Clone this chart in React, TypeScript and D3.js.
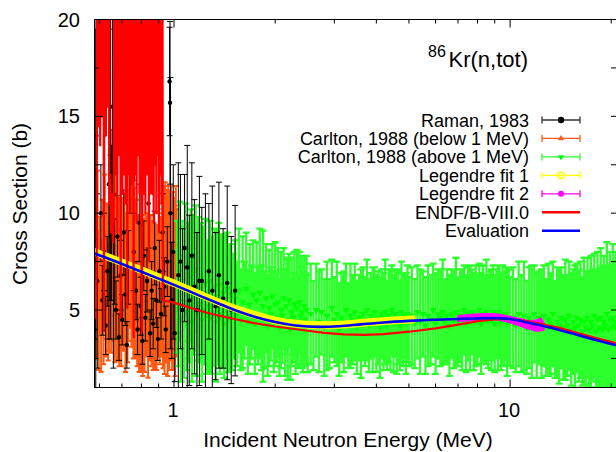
import React from "react";
import * as d3 from "d3";

type Pt = [number, number, number];

const xMajorTicks = [1, 10];
const xMajorLabels = ["1", "10"];
const xMinorTicks = [0.6, 0.7, 0.8, 0.9, 2, 3, 4, 5, 6, 7, 8, 9, 20];
const yMajorTicks = [5, 10, 15, 20];
const yMajorLabels = ["5", "10", "15", "20"];
const yMinorTicks = [2.5, 7.5, 12.5, 17.5];

const legendLabels = [
  "Raman, 1983",
  "Carlton, 1988 (below 1 MeV)",
  "Carlton, 1988 (above 1 MeV)",
  "Legendre fit 1",
  "Legendre fit 2",
  "ENDF/B-VIII.0",
  "Evaluation",
];

// [E (MeV), sigma (b), error (b)]
const raman: Pt[] = [
  [0.580, 4.0, 3.0], [0.582, 12.0, 8.5], [0.585, 8.5, 11.0], [0.588, 14.0, 6.5], [0.591, 6.5, 4.5],
  [0.606, 10.0, 2.5], [0.612, 5.5, 1.8], [0.619, 8.0, 2.0], [0.626, 4.2, 1.5], [0.633, 7.0, 1.8],
  [0.640, 11.5, 8.0], [0.644, 13.0, 7.5], [0.648, 12.0, 8.5], [0.652, 9.5, 4.0], [0.656, 15.5, 4.5],
  [0.660, 11.0, 9.0], [0.666, 7.5, 2.2], [0.672, 5.0, 1.5], [0.679, 8.8, 2.1], [0.686, 3.6, 1.2],
  [0.694, 6.8, 1.8], [0.701, 4.5, 1.3], [0.709, 9.0, 2.2], [0.716, 5.8, 1.6], [0.724, 3.2, 1.2],
  [0.731, 7.2, 1.9], [0.739, 12.5, 2.5], [0.755, 20.0, 6.0], [0.759, 8.0, 2.0], [0.763, 14.5, 2.8],
  [0.771, 6.0, 1.5], [0.779, 4.0, 1.3], [0.788, 9.5, 2.0], [0.796, 5.2, 1.5], [0.805, 3.4, 1.2],
  [0.813, 7.8, 1.8], [0.822, 4.6, 1.2], [0.831, 6.5, 1.6], [0.840, 10.5, 2.3], [0.849, 3.8, 1.2],
  [0.858, 6.0, 1.5], [0.867, 4.3, 1.3], [0.876, 8.2, 1.9], [0.886, 5.5, 1.4], [0.895, 3.5, 1.1],
  [0.905, 7.0, 1.6], [0.915, 4.8, 1.3], [0.925, 9.0, 2.0], [0.935, 6.2, 1.5], [0.945, 4.0, 1.2],
  [0.955, 7.5, 1.8], [0.970, 16.8, 2.8], [0.973, 15.7, 4.2], [0.976, 10.0, 7.0], [0.985, 5.5, 3.0],
  [0.995, 8.0, 4.5], [1.005, 3.8, 2.5], [1.030, 6.8, 5.8], [1.045, 7.5, 4.5], [1.060, 5.0, 4.2],
  [1.075, 8.2, 3.8], [1.095, 7.2, 6.3], [1.110, 5.5, 4.4], [1.130, 7.8, 4.8], [1.150, 6.2, 4.5],
  [1.170, 5.0, 4.0], [1.190, 6.5, 5.4], [1.210, 6.5, 3.8], [1.240, 5.8, 5.2], [1.270, 7.0, 3.5],
  [1.300, 6.0, 5.4], [1.330, 5.2, 3.8], [1.360, 6.8, 4.8], [1.400, 5.6, 3.6], [1.440, 6.4, 5.0],
  [1.480, 5.0, 3.8], [1.520, 6.0, 4.4],
];

const carltonLow: Pt[] = [
  [0.582, 7.5, 4.8], [0.587, 6.0, 3.5], [0.592, 8.0, 4.2], [0.597, 5.5, 3.6], [0.602, 6.8, 3.0],
  [0.607, 5.2, 3.4], [0.612, 7.4, 3.3], [0.617, 6.1, 3.9], [0.622, 8.2, 3.8], [0.627, 5.8, 3.2],
  [0.632, 7.0, 3.5], [0.637, 5.4, 3.0], [0.642, 6.6, 3.7], [0.647, 9.5, 4.8], [0.652, 7.8, 5.0],
  [0.657, 10.0, 4.3], [0.662, 8.3, 4.9], [0.667, 6.9, 4.6], [0.672, 9.0, 5.2], [0.677, 6.2, 3.8],
  [0.682, 7.4, 3.3], [0.687, 5.6, 3.5], [0.692, 6.9, 3.9], [0.697, 5.3, 3.2], [0.702, 7.2, 3.6],
  [0.707, 6.0, 3.1], [0.712, 7.6, 3.4], [0.717, 5.5, 3.7], [0.722, 6.8, 3.2], [0.727, 5.9, 3.6],
  [0.732, 7.3, 3.9], [0.737, 8.6, 4.5], [0.742, 9.4, 4.1], [0.747, 7.8, 4.7], [0.752, 8.9, 4.4],
  [0.757, 6.5, 4.0], [0.762, 7.7, 3.6], [0.767, 5.8, 3.3], [0.772, 6.9, 3.8], [0.777, 5.2, 3.1],
  [0.782, 6.4, 3.5], [0.787, 5.0, 3.2], [0.792, 6.2, 3.6], [0.797, 4.8, 3.0], [0.802, 6.0, 3.4],
  [0.807, 5.3, 3.7], [0.812, 6.6, 3.1], [0.817, 5.1, 3.3], [0.822, 6.3, 3.6], [0.827, 5.6, 3.0],
  [0.832, 6.8, 3.2], [0.837, 5.0, 3.5], [0.842, 6.1, 3.3], [0.847, 5.4, 3.0], [0.852, 6.5, 3.4],
  [0.857, 5.2, 3.1], [0.862, 6.0, 3.6], [0.867, 4.9, 3.0], [0.872, 6.2, 3.3], [0.877, 5.5, 3.5],
  [0.882, 6.4, 3.0], [0.887, 5.1, 3.2], [0.892, 6.0, 3.4], [0.897, 5.6, 3.0], [0.902, 6.7, 3.3],
  [0.907, 5.3, 3.1], [0.912, 6.3, 3.5], [0.917, 5.8, 3.2], [0.922, 6.9, 3.6], [0.927, 6.1, 4.1],
  [0.932, 7.4, 4.0], [0.937, 6.3, 4.6], [0.942, 7.9, 3.7], [0.947, 6.6, 4.3], [0.952, 7.2, 4.0],
  [0.957, 6.0, 4.4], [0.962, 7.5, 3.9], [0.967, 6.4, 4.5], [0.972, 7.0, 4.2], [0.977, 6.2, 3.8],
  [0.982, 7.3, 4.1], [0.987, 6.5, 4.6], [0.992, 7.1, 4.0], [0.997, 6.3, 4.3], [1.002, 6.9, 3.9],
  [1.007, 6.0, 4.4], [1.012, 7.2, 4.2], [1.017, 6.4, 3.8],
];

const carltonHigh: Pt[] = [
  [1.02, 6.2, 3.4], [1.03, 5.1, 3.0], [1.04, 7.0, 3.6], [1.05, 4.6, 3.3], [1.06, 6.5, 3.1],
  [1.07, 5.4, 3.9], [1.08, 7.3, 3.2], [1.09, 4.9, 3.0], [1.10, 6.0, 3.5], [1.11, 5.2, 2.9],
  [1.12, 6.8, 3.4], [1.13, 4.4, 3.1], [1.14, 6.3, 3.6], [1.15, 5.7, 2.8], [1.16, 7.1, 3.3],
  [1.17, 4.8, 3.2], [1.18, 6.1, 3.7], [1.19, 5.3, 3.0], [1.20, 6.6, 2.9], [1.21, 4.5, 3.2],
  [1.22, 5.9, 3.4], [1.23, 5.0, 2.8], [1.24, 6.4, 3.3], [1.25, 4.7, 3.0], [1.26, 5.8, 2.7],
  [1.27, 5.2, 3.4], [1.28, 6.5, 3.1], [1.29, 4.6, 2.9], [1.30, 5.6, 3.2], [1.31, 4.9, 2.8],
  [1.32, 6.2, 3.0], [1.33, 4.4, 3.1], [1.34, 5.7, 3.5], [1.35, 5.0, 2.6], [1.36, 6.3, 3.2],
  [1.37, 4.6, 2.9], [1.38, 5.5, 3.3], [1.39, 4.8, 2.7], [1.40, 5.9, 3.0], [1.41, 4.3, 2.8],
  [1.42, 5.4, 3.4], [1.43, 5.1, 2.6], [1.44, 6.1, 2.9], [1.45, 4.5, 2.7], [1.46, 5.3, 3.1],
  [1.47, 4.7, 2.8], [1.48, 5.8, 2.6], [1.49, 4.9, 3.0], [1.50, 5.2, 2.7],
  [1.52, 5.6, 3.0], [1.54, 4.8, 2.7], [1.56, 6.0, 3.2], [1.58, 4.5, 2.6], [1.60, 5.4, 3.4],
  [1.62, 5.0, 2.5], [1.64, 6.1, 2.9], [1.66, 4.4, 2.7], [1.68, 5.3, 3.1], [1.70, 4.9, 2.4],
  [1.72, 5.8, 2.8], [1.74, 4.3, 2.6], [1.76, 5.5, 3.0], [1.78, 4.7, 2.5], [1.80, 5.9, 3.3],
  [1.82, 4.6, 2.7], [1.84, 5.2, 3.9], [1.86, 4.5, 2.5], [1.88, 5.6, 2.8], [1.90, 4.2, 2.6],
  [1.92, 5.1, 3.0], [1.94, 4.8, 2.4], [1.96, 5.7, 2.7], [1.98, 4.4, 2.6], [2.00, 5.3, 3.2],
  [2.02, 4.6, 2.3], [2.04, 5.4, 2.8], [2.06, 4.1, 2.5], [2.08, 5.0, 3.0], [2.10, 4.7, 2.4],
  [2.12, 5.6, 2.6], [2.14, 4.3, 2.7], [2.16, 5.2, 2.5], [2.18, 4.5, 3.1], [2.20, 5.5, 2.4],
  [2.22, 4.0, 2.6], [2.24, 4.9, 2.8], [2.26, 4.6, 2.3], [2.28, 5.3, 2.7], [2.30, 4.2, 2.5],
  [2.32, 5.1, 3.0], [2.34, 4.4, 2.4], [2.36, 5.4, 2.6], [2.38, 4.7, 2.5], [2.40, 4.9, 2.9],
  [2.42, 4.1, 2.3], [2.44, 5.2, 2.6], [2.46, 4.5, 2.4], [2.48, 5.0, 2.8], [2.50, 4.3, 2.5],
  [2.55, 4.8, 2.6], [2.60, 4.2, 2.3], [2.65, 5.0, 2.4], [2.70, 4.4, 2.6], [2.75, 4.9, 2.2],
  [2.80, 4.1, 2.5], [2.85, 4.7, 2.8], [2.90, 4.3, 2.3], [2.95, 5.1, 2.5], [3.00, 4.5, 2.2],
  [3.05, 4.8, 2.7], [3.10, 4.0, 2.4], [3.15, 4.6, 2.3], [3.20, 4.4, 2.6], [3.25, 5.0, 2.4],
  [3.30, 4.2, 2.2], [3.35, 4.7, 2.7], [3.40, 4.5, 2.3], [3.45, 4.9, 2.5], [3.50, 4.1, 2.4],
  [3.55, 4.6, 2.2], [3.60, 4.3, 2.8], [3.65, 4.8, 2.4], [3.70, 4.4, 2.3], [3.75, 5.0, 2.6],
  [3.80, 4.2, 2.4], [3.85, 4.7, 2.2], [3.90, 4.5, 2.7], [3.95, 4.9, 2.3], [4.00, 4.3, 2.5],
  [4.05, 4.6, 2.4], [4.10, 4.1, 2.6], [4.15, 4.8, 2.3], [4.20, 4.4, 2.5], [4.25, 4.9, 2.7],
  [4.30, 4.2, 2.3], [4.35, 4.7, 2.4], [4.40, 4.5, 2.6], [4.45, 5.0, 2.3], [4.50, 4.3, 2.5],
  [4.55, 4.8, 2.2], [4.60, 4.4, 2.7], [4.65, 4.6, 2.4], [4.70, 4.2, 2.3], [4.75, 4.9, 2.6],
  [4.80, 4.5, 2.4], [4.85, 4.7, 2.2], [4.90, 4.3, 2.6], [4.95, 4.8, 2.5], [5.00, 4.4, 2.3],
  [5.1, 4.7, 2.5], [5.2, 4.3, 2.3], [5.3, 4.9, 2.4], [5.4, 4.4, 2.7], [5.5, 4.8, 2.2],
  [5.6, 4.2, 2.5], [5.7, 4.7, 2.6], [5.8, 4.5, 2.3], [5.9, 5.0, 2.4], [6.0, 4.3, 2.6],
  [6.1, 4.8, 2.3], [6.2, 4.6, 2.5], [6.3, 4.9, 2.7], [6.4, 4.4, 2.2], [6.5, 4.7, 2.4],
  [6.6, 4.2, 2.6], [6.7, 4.8, 2.3], [6.8, 4.5, 2.5], [6.9, 4.9, 2.8], [7.0, 4.4, 2.3],
  [7.1, 4.7, 2.4], [7.2, 4.5, 2.6], [7.3, 5.0, 2.3], [7.4, 4.3, 2.5], [7.5, 4.8, 2.4],
  [7.6, 4.6, 2.7], [7.7, 4.9, 2.2], [7.8, 4.4, 2.5], [7.9, 4.7, 2.6], [8.0, 4.5, 2.3],
  [8.1, 5.0, 2.4], [8.2, 4.3, 2.6], [8.3, 4.8, 2.5], [8.4, 4.6, 2.2], [8.5, 4.9, 2.7],
  [8.6, 4.4, 2.4], [8.7, 4.7, 2.3], [8.8, 4.5, 2.6], [8.9, 4.9, 2.4], [9.0, 4.3, 2.5],
  [9.1, 4.8, 2.3], [9.2, 4.6, 2.7], [9.3, 4.9, 2.4], [9.4, 4.4, 2.5], [9.5, 4.7, 2.6],
  [9.6, 4.5, 2.3], [9.7, 4.8, 2.4], [9.8, 4.3, 2.7], [9.9, 4.6, 2.5], [10.0, 4.4, 2.3],
  [10.2, 4.6, 2.6], [10.4, 4.2, 2.4], [10.6, 4.8, 2.7], [10.8, 4.3, 2.5], [11.0, 4.7, 2.8],
  [11.2, 4.1, 2.4], [11.4, 4.6, 2.6], [11.6, 4.4, 2.9], [11.8, 4.8, 2.5], [12.0, 4.2, 2.7],
  [12.2, 4.6, 2.4], [12.4, 4.3, 2.8], [12.6, 4.7, 2.6], [12.8, 4.1, 2.5], [13.0, 4.5, 2.9],
  [13.2, 4.3, 2.6], [13.4, 4.8, 2.7], [13.6, 4.0, 2.5], [13.8, 4.4, 2.8], [14.0, 4.2, 3.0],
  [14.2, 4.6, 2.6], [14.4, 4.1, 2.7], [14.6, 4.5, 3.1], [14.8, 4.2, 2.6], [15.0, 4.7, 2.8],
  [15.2, 4.0, 2.9], [15.4, 4.4, 2.7], [15.6, 4.1, 3.2], [15.8, 4.6, 2.8], [16.0, 4.2, 2.9],
  [16.2, 4.5, 3.0], [16.4, 3.9, 2.8], [16.6, 4.4, 3.3], [16.8, 4.1, 2.9], [17.0, 4.6, 3.1],
  [17.2, 4.0, 3.0], [17.4, 4.4, 3.4], [17.6, 4.2, 2.9], [17.8, 4.7, 3.2], [18.0, 3.9, 3.1],
  [18.2, 4.5, 3.5], [18.4, 4.1, 3.0], [18.6, 4.6, 3.6], [18.8, 4.0, 3.2], [19.0, 4.4, 3.4],
  [19.2, 4.2, 3.1], [19.4, 4.8, 3.7], [19.6, 4.0, 3.3], [19.8, 4.5, 3.5], [20.0, 4.1, 3.2],
  [20.2, 4.6, 3.8], [20.4, 4.2, 3.3], [20.6, 4.4, 3.6], [20.8, 4.0, 3.4],
];

const legendre1: Pt[] = [
  [0.58, 8.0, 0.18], [0.7, 7.46, 0.18], [0.8, 7.06, 0.18], [0.93, 6.6, 0.18], [1.0, 6.38, 0.18],
  [1.2, 5.8, 0.18], [1.5, 5.11, 0.18], [1.8, 4.68, 0.18], [2.0, 4.46, 0.18], [2.4, 4.26, 0.18],
  [2.8, 4.21, 0.18], [3.2, 4.25, 0.18], [3.7, 4.35, 0.18], [4.4, 4.45, 0.18], [5.2, 4.52, 0.18],
];

const legendre2: Pt[] = [
  [7.0, 4.56, 0.14], [7.5, 4.6, 0.15], [8.0, 4.64, 0.15], [8.5, 4.66, 0.15], [9.0, 4.65, 0.15],
  [9.5, 4.6, 0.15], [10.0, 4.5, 0.16], [10.5, 4.4, 0.18], [11.0, 4.3, 0.2], [11.5, 4.22, 0.22],
  [12.0, 4.2, 0.28], [12.3, 4.25, 0.32], [12.6, 4.15, 0.18],
];

// [E (MeV), sigma (b)]
const endf: [number, number][] = [
  [0.581, 6.5], [0.585, 4.6], [0.589, 8], [0.592, 40], [0.595, 14.5], [0.599, 40], [0.603, 13.5],
  [0.607, 40], [0.611, 15], [0.615, 40], [0.619, 3.9], [0.623, 40], [0.627, 14], [0.631, 40],
  [0.635, 15.5], [0.639, 40], [0.642, 10.5], [0.646, 12], [0.650, 9], [0.654, 11], [0.658, 8.5],
  [0.662, 10], [0.666, 40],
  [0.670, 12], [0.674, 40], [0.678, 9], [0.682, 40], [0.686, 13], [0.690, 40], [0.694, 4.6],
  [0.698, 40], [0.702, 11], [0.706, 40], [0.710, 12], [0.714, 40], [0.718, 10.5], [0.722, 40],
  [0.726, 5.1], [0.730, 40], [0.734, 12], [0.738, 40], [0.742, 10], [0.746, 40], [0.750, 11.5],
  [0.754, 40], [0.758, 3.6], [0.762, 40], [0.766, 12], [0.770, 40], [0.774, 9.5], [0.778, 40],
  [0.782, 13], [0.786, 40], [0.790, 11], [0.794, 40], [0.798, 12], [0.802, 3.9], [0.806, 12],
  [0.810, 40], [0.814, 11], [0.818, 40], [0.822, 10], [0.826, 40], [0.830, 13], [0.834, 12],
  [0.838, 40], [0.842, 7.5], [0.846, 40], [0.850, 11], [0.854, 40], [0.858, 12], [0.862, 11],
  [0.866, 40], [0.870, 9.5], [0.874, 40], [0.878, 12.5], [0.882, 40], [0.886, 10], [0.890, 40],
  [0.894, 13], [0.898, 40], [0.902, 9], [0.906, 40], [0.910, 12], [0.914, 40], [0.918, 10.5],
  [0.922, 40], [0.9265, 5.5],
  [0.96, 5.45], [1.0, 5.38], [1.1, 5.15], [1.2, 4.95], [1.35, 4.72], [1.5, 4.55], [1.7, 4.35],
  [2.0, 4.15], [2.4, 3.97], [2.8, 3.82], [3.2, 3.74], [3.7, 3.72], [4.2, 3.76], [5.0, 3.88],
  [6.0, 4.05], [7.0, 4.25], [8.0, 4.42], [9.0, 4.52], [10.0, 4.55], [11.0, 4.45], [12.0, 4.32],
  [14.0, 4.08], [16.0, 3.8], [18.0, 3.55], [20.8, 3.28],
];

const evaluation: [number, number][] = [
  [0.58, 7.92], [0.65, 7.6], [0.7, 7.38], [0.8, 6.98], [0.9, 6.62], [1.0, 6.3], [1.1, 6.0],
  [1.2, 5.72], [1.35, 5.35], [1.5, 5.03], [1.7, 4.7], [2.0, 4.38], [2.3, 4.2], [2.7, 4.13],
  [3.1, 4.16], [3.6, 4.26], [4.2, 4.36], [5.0, 4.44], [6.0, 4.5], [7.0, 4.54], [8.0, 4.57],
  [9.0, 4.58], [10.0, 4.54], [11.0, 4.4], [12.0, 4.25], [14.0, 3.97], [16.0, 3.7], [18.0, 3.45],
  [20.8, 3.17],
];

const FONT = "'Liberation Sans', Arial, Helvetica, sans-serif";
const C_BLACK = "#000000";
const C_ORANGE = "#ff5a12";
const C_GREEN = "#00ff00";
const C_GREEN_BAR = "#2cff2c";
const C_YELLOW = "#ffff00";
const C_MAGENTA = "#ff00ff";
const C_RED = "#ff0000";
const C_BLUE = "#0000ff";

export default function App() {
  const left = 94.5, right = 617, top = 19.5, bottom = 387.5;
  const x = d3.scaleLog().domain([0.58, 20.8]).range([left, right]);
  const y = d3.scaleLinear().domain([1, 20]).range([bottom, top]);

  const barPath = (data: Pt[], cap: number) => {
    const p = d3.path();
    data.forEach(([e, v, err]) => {
      const px = x(e), y0 = y(v - err), y1 = y(v + err);
      p.moveTo(px, y0); p.lineTo(px, y1);
      p.moveTo(px - cap, y0); p.lineTo(px + cap, y0);
      p.moveTo(px - cap, y1); p.lineTo(px + cap, y1);
    });
    return p.toString();
  };

  const tri = d3.symbol().type(d3.symbolTriangle).size(20)() as string;
  const triSmall = d3.symbol().type(d3.symbolTriangle).size(16)() as string;

  const line = d3.line<[number, number]>().x((d) => x(d[0])).y((d) => y(d[1]));
  const smoothLine = d3.line<[number, number]>().x((d) => x(d[0])).y((d) => y(d[1])).curve(d3.curveMonotoneX);
  const band = d3.area<Pt>().x((d) => x(d[0])).y0((d) => y(d[1] - d[2])).y1((d) => y(d[1] + d[2])).curve(d3.curveMonotoneX);

  const legendX = 529;
  const legendY0 = 120;
  const legendDy = 18.45;
  const sx0 = 542, sx1 = 580, smid = 561;

  const sampleRows = [
    { bar: "#333333" },
    { bar: C_ORANGE },
    { bar: C_GREEN_BAR },
    { bar: C_YELLOW },
    { bar: C_MAGENTA },
  ];

  return (
    <svg width={616} height={452} style={{ position: "absolute", left: 0, top: 0, background: "#fff" }} fontFamily={FONT}>
      <defs>
        <clipPath id="plot">
          <rect x={left} y={top} width={right - left} height={bottom - top} />
        </clipPath>
      </defs>
      <rect x={0} y={0} width={616} height={452} fill="#fff" />
      <g clipPath="url(#plot)">
        <path d={barPath(carltonLow, 2.5)} stroke={C_ORANGE} strokeWidth={2} fill="none" />
        {carltonLow.map((d, i) => (
          <path key={"o" + i} d={tri} transform={`translate(${x(d[0])},${y(d[1])})`} fill={C_ORANGE} />
        ))}
        <path d={barPath(carltonHigh, 3.5)} stroke={C_GREEN_BAR} strokeWidth={2.3} fill="none" />
        {carltonHigh.map((d, i) => (
          <path key={"g" + i} d={tri} transform={`translate(${x(d[0])},${y(d[1])}) rotate(180)`} fill={C_GREEN} />
        ))}
        <path d={barPath(raman, 3)} stroke={C_BLACK} strokeWidth={1} fill="none" />
        {raman.map((d, i) => (
          <circle key={"k" + i} cx={x(d[0])} cy={y(d[1])} r={2.2} fill={C_BLACK} />
        ))}
        <path d={band(legendre1) as string} fill={C_YELLOW} stroke={C_YELLOW} strokeWidth={1} />
        <path d={band(legendre2) as string} fill={C_MAGENTA} stroke={C_MAGENTA} strokeWidth={1.5} />
        <path d={line(endf) as string} stroke={C_RED} strokeWidth={2.2} fill="none" strokeLinejoin="round" />
        <path d={smoothLine(evaluation) as string} stroke={C_BLUE} strokeWidth={2.6} fill="none" />
      </g>

      <rect x={left} y={top} width={right - left} height={bottom - top} fill="none" stroke="#000" strokeWidth={1} />

      {xMajorTicks.map((t, i) => (
        <g key={"xm" + i}>
          <line x1={x(t)} x2={x(t)} y1={bottom} y2={bottom - 8} stroke="#000" />
          <line x1={x(t)} x2={x(t)} y1={top} y2={top + 8} stroke="#000" />
          <text x={x(t) - 1} y={417} fontSize={20} textAnchor="middle">{xMajorLabels[i]}</text>
        </g>
      ))}
      {xMinorTicks.map((t, i) => (
        <g key={"xn" + i}>
          <line x1={x(t)} x2={x(t)} y1={bottom} y2={bottom - 4} stroke="#000" />
          <line x1={x(t)} x2={x(t)} y1={top} y2={top + 4} stroke="#000" />
        </g>
      ))}
      {yMajorTicks.map((t, i) => (
        <g key={"ym" + i}>
          <line x1={left} x2={left + 8} y1={y(t)} y2={y(t)} stroke="#000" />
          <line x1={right} x2={right - 6} y1={y(t)} y2={y(t)} stroke="#000" />
          <text x={80} y={y(t) + 7} fontSize={20} textAnchor="end">{yMajorLabels[i]}</text>
        </g>
      ))}
      {yMinorTicks.map((t, i) => (
        <g key={"yn" + i}>
          <line x1={left} x2={left + 4} y1={y(t)} y2={y(t)} stroke="#000" />
          <line x1={right} x2={right - 6} y1={y(t)} y2={y(t)} stroke="#000" />
        </g>
      ))}

      <text x={348} y={447} fontSize={21} textAnchor="middle">Incident Neutron Energy (MeV)</text>
      <text transform="translate(27,204) rotate(-90)" fontSize={21} textAnchor="middle">Cross Section (b)</text>

      <text x={428} y={57} fontSize={16}>86</text>
      <text x={448.5} y={67} fontSize={22}>Kr(n,tot)</text>

      {legendLabels.map((lab, i) => (
        <text key={"lt" + i} x={legendX} y={legendY0 + i * legendDy + 6.5} fontSize={18} textAnchor="end">{lab}</text>
      ))}
      {sampleRows.map((r, i) => {
        const ly = legendY0 + i * legendDy;
        return (
          <g key={"ls" + i}>
            <line x1={sx0} x2={sx1} y1={ly} y2={ly} stroke={r.bar} strokeWidth={1.3} />
            <line x1={sx0} x2={sx0} y1={ly - 3.5} y2={ly + 3.5} stroke={r.bar} strokeWidth={1.3} />
            <line x1={sx1} x2={sx1} y1={ly - 3.5} y2={ly + 3.5} stroke={r.bar} strokeWidth={1.3} />
            {i === 0 && <circle cx={smid} cy={ly} r={3.2} fill={C_BLACK} />}
            {i === 1 && <path d={triSmall} transform={`translate(${smid},${ly})`} fill={C_ORANGE} />}
            {i === 2 && <path d={triSmall} transform={`translate(${smid},${ly}) rotate(180)`} fill={C_GREEN} />}
            {i === 3 && <circle cx={smid} cy={ly} r={3.2} fill="none" stroke={C_YELLOW} strokeWidth={1.5} />}
            {i === 4 && <circle cx={smid} cy={ly} r={3} fill={C_MAGENTA} />}
          </g>
        );
      })}
      <line x1={sx0} x2={sx1} y1={legendY0 + 5 * legendDy} y2={legendY0 + 5 * legendDy} stroke={C_RED} strokeWidth={2.6} />
      <line x1={sx0} x2={sx1} y1={legendY0 + 6 * legendDy} y2={legendY0 + 6 * legendDy} stroke={C_BLUE} strokeWidth={2.6} />
    </svg>
  );
}
